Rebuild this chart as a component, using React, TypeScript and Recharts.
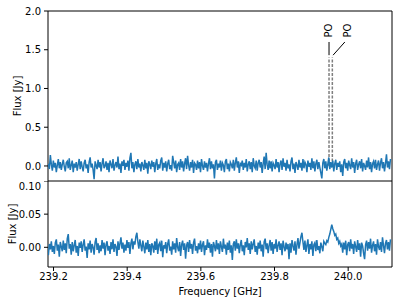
import React from 'react';
import {
  LineChart,
  Line,
  XAxis,
  YAxis,
  ReferenceLine,
  ReferenceArea,
  ReferenceDot,
  Label,
} from 'recharts';

// channel grid
const freqStart = 239.186;
const channelWidth = 0.0027;

// upper panel flux [Jy]
const topFlux = [
  0.03, -0.04, 0.14, 0.02, -0.06, 0.07, -0.02, 0.04, -0.08, 0.01, 0.09, -0.03, 0.05, -0.05, 0.02,
  0.08, -0.01, -0.07, 0.04, 0.06, -0.03, 0.1, -0.05, 0.01, 0.07, -0.08, 0.03, -0.02, 0.05, -0.06,
  0.02, 0.09, -0.04, 0.06, -0.01, -0.07, 0.04, 0.08, -0.03, 0.02, -0.09, 0.05, 0.11, -0.02, 0.03,
  -0.05, -0.17, 0.06, 0.01, -0.04, 0.08, -0.02, 0.05, -0.07, 0.03, 0.1, -0.03, 0.0, 0.06, -0.05,
  0.04, -0.08, 0.07, 0.02, -0.03, 0.09, -0.06, 0.01, 0.05, -0.02, 0.12, -0.04, 0.03, -0.09, 0.06,
  0.0, 0.08, -0.05, 0.04, -0.01, 0.07, -0.06, 0.1, 0.17, -0.03, 0.05, -0.08, 0.02, 0.06, -0.04,
  0.09, -0.02, 0.03, -0.07, 0.05, 0.01, -0.05, 0.08, -0.03, 0.04, -0.1, 0.06, 0.02, -0.04, 0.07,
  -0.01, 0.05, -0.08, 0.03, 0.09, -0.05, 0.02, -0.03, 0.07, 0.11, -0.06, 0.04, -0.02, 0.06, -0.07,
  0.03, 0.08, -0.04, 0.01, -0.06, 0.13, 0.05, -0.03, 0.07, -0.08, 0.02, 0.04, -0.05, 0.09, -0.02,
  0.06, -0.07, 0.03, 0.1, -0.04, 0.13, 0.01, -0.06, 0.05, -0.02, 0.08, -0.09, 0.04, 0.02, -0.05,
  0.07, -0.03, 0.05, -0.08, 0.09, 0.0, -0.05, 0.06, -0.02, 0.04, -0.07, 0.03, 0.1, -0.04, 0.06,
  -0.03, 0.02, -0.16, 0.05, 0.08, -0.05, 0.03, -0.02, 0.07, -0.06, 0.04, 0.01, -0.08, 0.06, 0.09,
  -0.04, 0.03, -0.07, 0.05, 0.02, -0.03, 0.08, -0.06, 0.04, 0.11, -0.02, 0.06, -0.09, 0.03, 0.01,
  0.07, -0.05, 0.04, -0.02, 0.09, -0.07, 0.02, 0.06, -0.04, 0.05, -0.08, 0.1, 0.0, -0.03, 0.07,
  -0.06, 0.04, 0.08, -0.02, 0.05, -0.09, 0.03, 0.12, -0.04, 0.17, 0.02, -0.05, 0.07, -0.03, 0.06,
  -0.07, 0.04, 0.01, -0.04, 0.09, -0.02, 0.05, -0.08, 0.03, 0.07, -0.05, 0.1, -0.01, 0.04, -0.06,
  0.08, -0.03, 0.02, -0.07, 0.06, 0.11, -0.04, 0.03, -0.09, 0.05, 0.01, -0.05, 0.08, -0.02, 0.04,
  -0.06, 0.09, -0.03, 0.05, 0.02, -0.08, 0.07, -0.01, 0.04, -0.05, 0.1, -0.03, 0.06, -0.07, 0.03,
  0.08, -0.04, 0.05, -0.02, -0.09, -0.16, 0.04, 0.09, -0.03, 0.06, -0.06, 0.02, 0.11, -0.04, 0.05,
  -0.02, 0.07, -0.07, 0.03, 0.08, -0.05, 0.04, -0.01, 0.06, -0.08, 0.02, -0.13, 0.05, 0.09, -0.03,
  0.04, -0.06, 0.07, 0.01, -0.04, 0.1, -0.02, 0.05, -0.09, 0.03, 0.08, -0.05, 0.02, 0.06, -0.03,
  0.09, -0.07, 0.04, 0.0, -0.05, 0.07, -0.02, 0.11, -0.04, 0.05, -0.08, 0.03, 0.06, -0.03, 0.08,
  -0.05, 0.02, 0.07, -0.06, 0.04, 0.1, -0.03, 0.05, -0.07, 0.03, 0.15, -0.02, 0.06, -0.04, 0.09,
];

// lower panel flux [Jy]
const bottomFlux = [
  -0.012, 0.005, -0.003, 0.009, -0.007, 0.002, -0.01, 0.007, 0.012, -0.005, 0.004, -0.014, 0.008, 0.001, -0.006,
  0.01, -0.004, 0.006, -0.009, 0.013, 0.02, -0.002, 0.005, -0.011, 0.008, -0.006, 0.003, 0.011, -0.008, 0.002,
  -0.013, 0.007, -0.001, 0.009, -0.007, 0.004, 0.012, -0.005, 0.001, -0.016, 0.006, -0.003, 0.01, -0.008, 0.005,
  0.0, -0.011, 0.008, 0.014, -0.004, 0.006, -0.009, 0.003, -0.006, 0.011, -0.002, 0.007, -0.012, 0.004, 0.009,
  -0.005, 0.002, -0.01, 0.008, -0.003, 0.012, -0.007, 0.005, 0.001, -0.013, 0.009, -0.004, 0.006, 0.015, -0.002,
  0.007, -0.008, 0.004, -0.005, 0.011, -0.001, 0.008, -0.01, 0.006, 0.013, -0.003, 0.009, 0.004, 0.016, 0.022,
  0.008, -0.002, 0.012, 0.003, -0.006, 0.01, 0.001, -0.009, 0.007, -0.003, 0.011, -0.007, 0.005, -0.012, 0.006,
  0.002, -0.008, 0.009, -0.004, 0.013, -0.01, 0.004, 0.007, -0.006, 0.01, -0.015, 0.003, -0.002, 0.008, -0.009,
  0.005, 0.012, -0.005, 0.001, -0.011, 0.009, -0.003, 0.006, -0.008, 0.014, 0.0, -0.006, 0.008, -0.013, 0.004,
  0.01, -0.004, 0.006, -0.017, 0.003, 0.008, -0.007, 0.011, -0.002, 0.005, -0.01, 0.007, 0.013, -0.005, 0.002,
  -0.009, 0.006, -0.003, 0.01, -0.007, 0.004, 0.009, -0.012, 0.003, -0.004, 0.012, -0.001, 0.007, -0.008, 0.005,
  -0.014, 0.008, 0.002, -0.006, 0.011, -0.003, 0.006, -0.01, 0.009, 0.001, -0.007, 0.013, -0.002, 0.004, -0.011,
  0.007, -0.004, 0.01, -0.008, 0.003, -0.019, 0.005, 0.009, -0.005, 0.012, -0.002, 0.006, -0.009, 0.004, 0.011,
  -0.006, 0.003, -0.012, 0.008, 0.0, 0.014, -0.004, 0.006, -0.01, 0.009, -0.003, 0.005, 0.012, -0.007, 0.002,
  -0.011, 0.007, -0.002, 0.01, -0.006, 0.004, -0.014, 0.008, 0.013, -0.003, 0.006, -0.009, 0.003, 0.011, -0.005,
  0.008, -0.01, 0.005, -0.002, 0.012, -0.007, 0.003, 0.009, -0.004, 0.006, -0.012, 0.01, 0.001, -0.006, 0.007,
  -0.003, 0.005, -0.018, 0.006, -0.008, 0.011, 0.002, -0.005, 0.009, -0.011, 0.004, 0.014, -0.002, 0.007, 0.016,
  0.022, 0.008, -0.004, 0.01, -0.007, 0.003, 0.012, -0.01, 0.005, -0.003, 0.009, -0.013, 0.004, 0.007, -0.006,
  0.011, -0.004, 0.002, -0.009, 0.007, 0.001, -0.006, 0.009, 0.006, 0.004, 0.01, 0.008, 0.015, 0.02, 0.027,
  0.034, 0.028, 0.024, 0.018, 0.02, 0.012, 0.014, 0.006, 0.009, 0.002, 0.005, -0.008, 0.007, -0.003, 0.01,
  -0.012, 0.004, 0.008, -0.006, 0.012, -0.002, 0.005, -0.01, 0.009, 0.001, -0.007, 0.011, -0.004, 0.006, -0.014,
  0.007, 0.002, -0.009, -0.018, 0.004, 0.01, -0.005, 0.008, -0.002, 0.013, -0.008, 0.003, 0.009, -0.006, 0.005,
  -0.011, 0.012, 0.001, -0.004, 0.008, -0.007, 0.015, 0.003, -0.009, 0.006, 0.011, -0.003, 0.008, -0.005, 0.012,
];

const xTicks = [239.2, 239.4, 239.6, 239.8, 240.0];
const topTicks = [0, 0.5, 1.0, 1.5, 2.0];
const bottomTicks = [0, 0.05, 0.1];

// line identifications
const lineFreqs = [239.948, 239.957];
const lineTop = 1.4;
const lineLabels = ['PO', 'PO'];
const labelFreqs = [239.9457, 239.997];
const labelY = 1.748;
const connectorFrom = [239.948, 239.959];
const connectorTo = [239.948, 239.991];
const connectorY = [1.43, 1.6];

const xDomain: [number, number] = [239.185, 240.119];
const topDomain: [number, number] = [-0.194, 2.0];
const bottomDomain: [number, number] = [-0.0297, 0.1];

const topData = topFlux.map((v, i) => ({ f: freqStart + i * channelWidth, v }));
const bottomData = bottomFlux.map((v, i) => ({ f: freqStart + i * channelWidth, v }));

const font = 'DejaVu Sans, sans-serif';
const tickStyle = { fontSize: 10, fill: '#000', fontFamily: font };

const yLabel = (x: number) => (props: any) => {
  const vb = props.viewBox;
  const cy = vb.y + vb.height / 2;
  return (
    <text
      x={x}
      y={cy}
      transform={`rotate(-90, ${x}, ${cy})`}
      textAnchor="middle"
      dominantBaseline="central"
      fontSize={10}
      fontFamily={font}
      fill="#000"
    >
      Flux [Jy]
    </text>
  );
};

const poLabel = (text: string) => (props: any) => {
  const vb = props.viewBox;
  const x = vb.x + (vb.width || 0) / 2;
  const y = vb.y + (vb.height || 0) / 2;
  return (
    <text
      x={x}
      y={y}
      transform={`rotate(-90, ${x}, ${y})`}
      textAnchor="middle"
      dominantBaseline="central"
      fontSize={10}
      fontFamily={font}
      fill="#000"
    >
      {text}
    </text>
  );
};

export default function App() {
  return (
    <div
      style={{
        position: 'absolute',
        left: 0,
        top: 0,
        width: 399,
        height: 303,
        background: '#fff',
        fontFamily: font,
      }}
    >
      <div style={{ position: 'absolute', left: 0, top: 0 }}>
        <LineChart width={399} height={181} data={topData} margin={{ top: 11, right: 7, bottom: 0, left: 0 }}>
          <XAxis dataKey="f" type="number" domain={xDomain} ticks={xTicks} allowDataOverflow hide />
          <YAxis
            type="number"
            domain={topDomain}
            ticks={topTicks}
            allowDataOverflow
            width={48}
            axisLine={false}
            tickSize={4}
            tickMargin={3}
            tickLine={{ stroke: '#000' }}
            tick={tickStyle}
            tickFormatter={(v: number) => v.toFixed(1)}
          >
            <Label content={yLabel(17)} />
          </YAxis>
          {lineFreqs.map((f, i) => (
            <ReferenceLine
              key={'d' + i}
              segment={[{ x: f, y: 0 }, { x: f, y: lineTop }]}
              stroke="#7f7f7f"
              strokeWidth={1.5}
              strokeDasharray="3 1.5"
            />
          ))}
          <Line
            dataKey="v"
            stroke="#1f77b4"
            strokeWidth={1.5}
            dot={false}
            isAnimationActive={false}
          />
          {connectorFrom.map((f, i) => (
            <ReferenceLine
              key={'c' + i}
              segment={[{ x: f, y: connectorY[0] }, { x: connectorTo[i], y: connectorY[1] }]}
              stroke="#000"
              strokeWidth={1}
            />
          ))}
          {labelFreqs.map((f, i) => (
            <ReferenceDot
              key={'l' + i}
              x={f}
              y={labelY}
              r={0}
              fill="none"
              stroke="none"
              label={poLabel(lineLabels[i])}
            />
          ))}
          <ReferenceArea
            x1={xDomain[0]}
            x2={xDomain[1]}
            y1={topDomain[0]}
            y2={topDomain[1]}
            fill="none"
            stroke="#000"
            strokeWidth={1}
            ifOverflow="visible"
          />
        </LineChart>
      </div>
      <div style={{ position: 'absolute', left: 0, top: 181 }}>
        <LineChart width={399} height={122} data={bottomData} margin={{ top: 0, right: 7, bottom: 0, left: 0 }}>
          <XAxis
            dataKey="f"
            type="number"
            domain={xDomain}
            ticks={xTicks}
            allowDataOverflow
            height={36}
            axisLine={false}
            tickSize={4}
            tickMargin={2}
            tickLine={{ stroke: '#000' }}
            tick={tickStyle}
            tickFormatter={(v: number) => v.toFixed(1)}
          >
            <Label
              content={(props: any) => {
                const vb = props.viewBox;
                return (
                  <text
                    x={vb.x + vb.width / 2}
                    y={vb.y + vb.height - 8}
                    textAnchor="middle"
                    fontSize={10}
                    fontFamily={font}
                    fill="#000"
                  >
                    Frequency [GHz]
                  </text>
                );
              }}
            />
          </XAxis>
          <YAxis
            type="number"
            domain={bottomDomain}
            ticks={bottomTicks}
            allowDataOverflow
            width={48}
            axisLine={false}
            tickSize={4}
            tickMargin={3}
            tickLine={{ stroke: '#000' }}
            tick={tickStyle}
            tickFormatter={(v: number) => v.toFixed(2)}
          >
            <Label content={yLabel(12)} />
          </YAxis>
          <Line
            dataKey="v"
            stroke="#1f77b4"
            strokeWidth={1.5}
            dot={false}
            isAnimationActive={false}
          />
          <ReferenceArea
            x1={xDomain[0]}
            x2={xDomain[1]}
            y1={bottomDomain[0]}
            y2={bottomDomain[1]}
            fill="none"
            stroke="#000"
            strokeWidth={1}
            ifOverflow="visible"
          />
        </LineChart>
      </div>
    </div>
  );
}
